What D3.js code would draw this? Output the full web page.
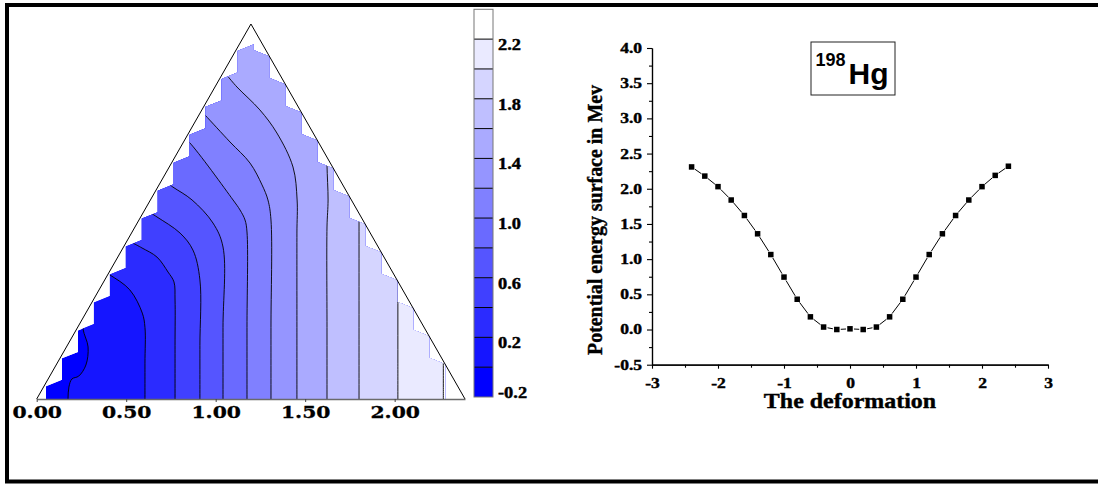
<!DOCTYPE html>
<html><head><meta charset="utf-8">
<script src="https://cdn.jsdelivr.net/npm/d3@7"></script>
<style>body{margin:0;background:#fff}svg{display:block}</style>
</head><body>
<svg id="c" width="1098" height="485"></svg>
<script>
// ---------------- LEFT PANEL DATA (data units) ----------------
const contourLevels = [0.0, 0.2, 0.4, 0.6, 0.8, 1.0, 1.2, 1.4, 1.6, 1.8, 2.0, 2.2];
const bandEdges = [-0.2, 0.0, 0.2, 0.4, 0.6, 0.8, 1.0, 1.2, 1.4, 1.6, 1.8, 2.0, 2.2, 2.4];
const colorbarTicks = [-0.2, 0.2, 0.6, 1.0, 1.4, 1.8, 2.2];
const triXTicks = [0, 0.5, 1.0, 1.5, 2.0];
const triangle = [[0, 0], [1.197, 2.095], [2.393, 0]];

// contour lines, each from upper-left (outside the grid) down to the base
const level_0_0 = [[0.259, 0.50], [0.259, 0.391], [0.287, 0.291], [0.275, 0.190], [0.235, 0.128], [0.197, 0.112], [0.180, 0.067], [0.175, 0.0], [0.175, -0.05]];
const level_0_2 = [[0.36, 0.72], [0.409, 0.693], [0.520, 0.610], [0.590, 0.480], [0.605, 0.400], [0.605, 0.2], [0.605, -0.05]];
const level_0_4 = [[0.54, 0.87], [0.588, 0.844], [0.672, 0.793], [0.734, 0.709], [0.767, 0.654], [0.773, 0.553], [0.773, 0.3], [0.773, -0.05]];
const level_0_6 = [[0.62, 1.05], [0.672, 1.017], [0.801, 0.927], [0.873, 0.832], [0.912, 0.665], [0.912, 0.3], [0.912, -0.05]];
const level_0_8 = [[0.71, 1.22], [0.761, 1.184], [0.868, 1.112], [0.985, 0.983], [1.041, 0.849], [1.041, 0.4], [1.041, -0.05]];
const level_1_0 = [[0.80, 1.48], [0.851, 1.436], [1.097, 1.112], [1.136, 1.056], [1.164, 1.0], [1.175, 0.933], [1.175, 0.4], [1.175, -0.05]];
const level_1_2 = [[0.89, 1.64], [0.940, 1.587], [1.080, 1.436], [1.192, 1.318], [1.259, 1.196], [1.292, 1.112], [1.309, 1.0], [1.309, 0.4], [1.309, -0.05]];
const level_1_4 = [[1.07, 1.80], [1.119, 1.743], [1.247, 1.615], [1.342, 1.486], [1.432, 1.296], [1.455, 1.112], [1.454, 0.927], [1.454, 0.4], [1.454, -0.05]];
const level_1_6 = [[1.622, 1.45], [1.622, 1.307], [1.628, 1.112], [1.622, 0.961], [1.622, 0.4], [1.622, -0.05]];
const level_1_8 = [[1.801, 1.3], [1.801, 1.0], [1.801, 0.4], [1.801, -0.05]];
const level_2_0 = [[2.018, 0.8], [2.018, 0.514], [2.018, 0.2], [2.018, -0.05]];
const level_2_2 = [[2.272, 0.3], [2.272, 0.078], [2.272, 0.03], [2.272, -0.05]];
const contourLines = [level_0_0, level_0_2, level_0_4, level_0_6, level_0_8, level_1_0,
                      level_1_2, level_1_4, level_1_6, level_1_8, level_2_0, level_2_2];

// ---------------- RIGHT PANEL DATA ----------------
const deformation = [-2.4, -2.2, -2.0, -1.8, -1.6, -1.4, -1.2, -1.0, -0.8, -0.6, -0.4, -0.2, 0.0,
                     0.2, 0.4, 0.6, 0.8, 1.0, 1.2, 1.4, 1.6, 1.8, 2.0, 2.2, 2.4];
const pes = [2.31, 2.18, 2.03, 1.84, 1.62, 1.36, 1.065, 0.745, 0.43, 0.18, 0.035, 0.0, 0.01,
             0.0, 0.035, 0.18, 0.43, 0.745, 1.065, 1.36, 1.62, 1.84, 2.03, 2.19, 2.32];
const xTicksR = [-3, -2, -1, 0, 1, 2, 3];
const xMinorR = [-2.5, -1.5, -0.5, 0.5, 1.5, 2.5];
const yTicksR = [-0.5, 0.0, 0.5, 1.0, 1.5, 2.0, 2.5, 3.0, 3.5, 4.0];
const yMinorR = [-0.25, 0.25, 0.75, 1.25, 1.75, 2.25, 2.75, 3.25, 3.75];

// ---------------- helpers ----------------
const svg = d3.select("#c");
function stretch(sel, f) {
  sel.each(function () {
    const w = this.getComputedTextLength();
    d3.select(this).attr("textLength", w * f).attr("lengthAdjust", "spacingAndGlyphs");
  });
}
function heavy(sel, w) { sel.attr("stroke", "#000").attr("stroke-width", w).attr("paint-order", "stroke"); }
const bandColor = k => d3.interpolateRgb("#0000ff", "#ffffff")(k / 12);

// outer frame
svg.append("rect").attr("x", 7).attr("y", 5).attr("width", 1200).attr("height", 476.5)
  .attr("fill", "none").attr("stroke", "#000").attr("stroke-width", 4);

// ================= LEFT: triangle contour =================
const xL = d3.scaleLinear().domain([0, 2.393]).range([36.7, 465]);
const yL = d3.scaleLinear().domain([0, 2.095]).range([399, 24]);
const H = triangle[1][1], xA = triangle[1][0], xE = triangle[2][0];
const yLeftEdge = x => x * H / xA, yRightEdge = x => (xE - x) * H / (xE - xA);

// stair-step grid boundary (slanted step tops, rising toward the apex)
const gx0 = 0.052, gw = 0.0892, ncol = 25, slant = 0.036, leftDrop = 0.02;
const clipPts = [[gx0, 0]];
for (let j = 0; j < ncol; j++) {
  const xa = gx0 + j * gw, xb = xa + gw;
  if (xb <= xA + gw * 0.2) {
    const t = Math.max(0, yLeftEdge(xa) - leftDrop);
    clipPts.push([xa, t], [xb, Math.min(t + slant, yLeftEdge(xb))]);
  } else {
    const t = Math.max(0, yRightEdge(xb));
    clipPts.push([xa, t + slant], [xb, t]);
  }
}
clipPts.push([gx0 + ncol * gw, 0]);
const poly = d3.line().x(d => xL(d[0])).y(d => yL(d[1]));
svg.append("defs").append("clipPath").attr("id", "stair")
  .append("path").attr("d", poly(clipPts) + "Z");

const gC = svg.append("g").attr("clip-path", "url(#stair)");
gC.append("path").attr("d", poly(clipPts) + "Z").attr("fill", bandColor(0));
const curve = d3.line().x(d => xL(d[0])).y(d => yL(d[1])).curve(d3.curveCatmullRom.alpha(0.5));
contourLines.forEach((pts, i) => {
  const f = pts[0], l = pts[pts.length - 1];
  const d = curve(pts) +
    `L${xL(l[0])},${yL(-0.3)}L${xL(3)},${yL(-0.3)}L${xL(3)},${yL(3)}L${xL(f[0])},${yL(3)}Z`;
  gC.append("path").attr("d", d).attr("fill", bandColor(i + 1)).attr("stroke", "none");
});
contourLines.forEach(pts => {
  gC.append("path").attr("d", curve(pts)).attr("fill", "none")
    .attr("stroke", "#000").attr("stroke-width", 0.9);
});

// triangle sides
svg.append("path").attr("d", poly(triangle)).attr("fill", "none")
  .attr("stroke", "#000").attr("stroke-width", 1);

// base axis
const axL = svg.append("g").attr("transform", "translate(0,399)")
  .call(d3.axisBottom(xL).tickValues(triXTicks).tickFormat(d => d.toFixed(2))
    .tickSize(3).tickSizeOuter(0).tickPadding(4.5));
axL.select(".domain").attr("stroke", "#6a6a6a").attr("stroke-width", 1.3);
axL.selectAll(".tick line").attr("stroke", "#444");
axL.selectAll("text").attr("font-family", "DejaVu Serif").attr("font-weight", "bold")
  .attr("font-size", 16).attr("fill", "#000");
stretch(axL.selectAll("text"), 1.27);
heavy(axL.selectAll("text"), 0.3);

// colorbar
const yC = d3.scaleLinear().domain([-0.2, 2.4]).range([397, 9.3]);
const cb = svg.append("g");
bandEdges.slice(0, -1).forEach((v, k) => {
  cb.append("rect").attr("x", 474).attr("width", 19)
    .attr("y", yC(bandEdges[k + 1])).attr("height", yC(v) - yC(bandEdges[k + 1]))
    .attr("fill", bandColor(k));
});
bandEdges.slice(1, -1).forEach(v => {
  cb.append("line").attr("x1", 474).attr("x2", 493).attr("y1", yC(v)).attr("y2", yC(v))
    .attr("stroke", "#000").attr("stroke-width", 1);
});
cb.append("rect").attr("x", 474).attr("y", yC(2.4)).attr("width", 19)
  .attr("height", yC(-0.2) - yC(2.4)).attr("fill", "none").attr("stroke", "#777").attr("stroke-width", 1);
const cbl = cb.selectAll("text.cbl").data(colorbarTicks).join("text").attr("class", "cbl")
  .attr("x", 498).attr("y", d => d === -0.2 ? yC(d) + 1 : yC(d) + 11)
  .attr("font-family", "Liberation Serif").attr("font-weight", "bold").attr("font-size", 17)
  .text(d => d.toFixed(1));
stretch(cbl, 1.08);
heavy(cbl, 0.45);

// ================= RIGHT: potential energy curve =================
const xR = d3.scaleLinear().domain([-3, 3]).range([652, 1048]);
const yR = d3.scaleLinear().domain([-0.5, 4.0]).range([364.7, 48]);

const axX = svg.append("g").attr("transform", `translate(0,${yR(-0.5)})`)
  .call(d3.axisBottom(xR).tickValues(xTicksR).tickFormat(d => String(d))
    .tickSize(4).tickSizeOuter(0).tickPadding(9.5));
const axY = svg.append("g").attr("transform", `translate(${xR(-3)},0)`)
  .call(d3.axisLeft(yR).tickValues(yTicksR).tickFormat(d => d.toFixed(1))
    .tickSize(5).tickSizeOuter(0).tickPadding(5));
const axXm = svg.append("g").attr("transform", `translate(0,${yR(-0.5)})`)
  .call(d3.axisBottom(xR).tickValues(xMinorR).tickFormat("").tickSize(3).tickSizeOuter(0));
const axYm = svg.append("g").attr("transform", `translate(${xR(-3)},0)`)
  .call(d3.axisLeft(yR).tickValues(yMinorR).tickFormat("").tickSize(3).tickSizeOuter(0));
[axX, axY, axXm, axYm].forEach(a => {
  a.select(".domain").attr("stroke", "#000").attr("stroke-width", 1.2);
  a.selectAll(".tick line").attr("stroke", "#000").attr("stroke-width", 1.1);
});
[axX, axY].forEach(a => {
  a.selectAll("text").attr("font-family", "Liberation Serif").attr("font-weight", "bold")
    .attr("font-size", 14).attr("fill", "#000");
  stretch(a.selectAll("text"), 1.25);
  heavy(a.selectAll("text"), 0.4);
});

// connecting line with gaps around symbols
const gap = 4;
for (let i = 0; i < deformation.length - 1; i++) {
  const x1 = xR(deformation[i]), y1 = yR(pes[i]), x2 = xR(deformation[i + 1]), y2 = yR(pes[i + 1]);
  const len = Math.hypot(x2 - x1, y2 - y1);
  if (len <= 2 * gap) continue;
  const ux = (x2 - x1) / len, uy = (y2 - y1) / len;
  svg.append("line").attr("x1", x1 + ux * gap).attr("y1", y1 + uy * gap)
    .attr("x2", x2 - ux * gap).attr("y2", y2 - uy * gap)
    .attr("stroke", "#000").attr("stroke-width", 1);
}
svg.selectAll("rect.pt").data(deformation).join("rect").attr("class", "pt")
  .attr("x", d => xR(d) - 2.75).attr("y", (d, i) => yR(pes[i]) - 2.75)
  .attr("width", 5.5).attr("height", 5.5).attr("fill", "#000");

// axis titles
const xt = svg.append("text").attr("x", (xR(-3) + xR(3)) / 2).attr("y", 408)
  .attr("text-anchor", "middle").attr("font-family", "Liberation Serif").attr("font-weight", "bold")
  .attr("font-size", 21).text("The deformation");
stretch(xt, 1.14);
heavy(xt, 0.4);
const yt = svg.append("text").attr("transform", "translate(601.5,220) rotate(-90)")
  .attr("text-anchor", "middle").attr("font-family", "Liberation Serif").attr("font-weight", "bold")
  .attr("font-size", 20).attr("textLength", 270).attr("lengthAdjust", "spacingAndGlyphs")
  .text("Potential energy surface in Mev");
heavy(yt, 0.4);

// nucleus label box
svg.append("rect").attr("x", 811).attr("y", 42).attr("width", 84).attr("height", 53)
  .attr("fill", "#fff").attr("stroke", "#222").attr("stroke-width", 1);
svg.append("text").attr("x", 815.5).attr("y", 66).attr("font-family", "Liberation Sans")
  .attr("font-weight", "bold").attr("font-size", 18).text("198");
svg.append("text").attr("x", 848.5).attr("y", 83.5).attr("font-family", "Liberation Sans")
  .attr("font-weight", "bold").attr("font-size", 30).text("Hg");
</script>
</body></html>
